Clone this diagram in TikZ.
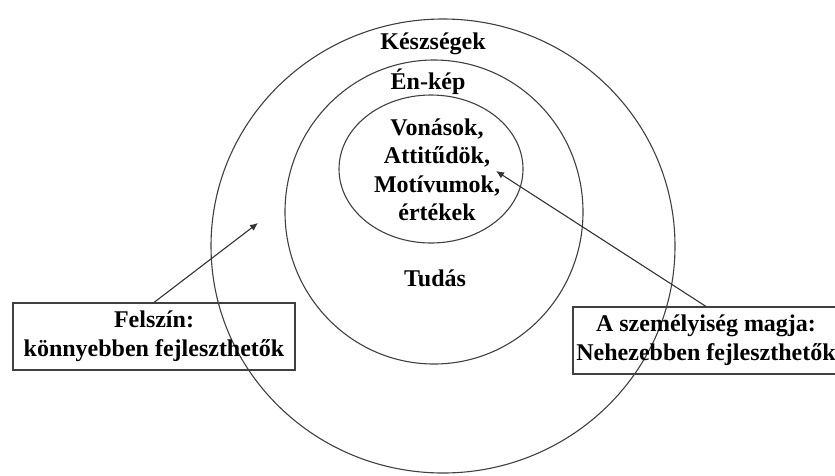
\documentclass[tikz,border=0pt]{standalone}
\usepackage{fontspec}
\setmainfont{Liberation Serif}
\usetikzlibrary{arrows.meta}
\begin{document}
\begin{tikzpicture}[x=1pt,y=-1pt,
  ring/.style={draw=black!75,line width=1.1pt},
  lbl/.style={font=\fontsize{24}{28}\selectfont\bfseries,align=center,inner sep=0pt},
  callout/.style={draw=black!75,line width=1.1pt,font=\fontsize{24}{29}\selectfont\bfseries,align=center,inner sep=0pt},
  pointer/.style={draw=black!80,line width=1.1pt,-{Latex[length=8pt,width=7pt]}}]
\useasboundingbox (0,0) rectangle (835,475);
\clip (0,0) rectangle (835,475);
% rings
\draw[ring] (443,246) ellipse [x radius=232, y radius=227];
\draw[ring] (434,212) ellipse [x radius=149, y radius=152];
\draw[ring] (431,169) ellipse [x radius=92, y radius=74];
% labels
\node[lbl] (skills) at (433,44) {Készségek};
\node[lbl] (self) at (428,82) {Én-kép};
\node[lbl,font=\fontsize{24}{28.5}\selectfont\bfseries] (core) at (437,170) {Vonások,\\Attitűdök,\\Motívumok,\\értékek};
\node[lbl] (know) at (435,278) {Tudás};
% callout boxes
\node[callout,minimum width=282pt,minimum height=67pt] (surf) at (154,336.5) {Felszín:\\könnyebben fejleszthetők};
\node[callout,minimum width=266pt,minimum height=67pt] (kern) at (706,340.5) {A személyiség magja:\\Nehezebben fejleszthetők};
\coordinate (tipL) at (258,223);
\coordinate (tipR) at (496,171);
\draw[pointer] (surf.north) -- (tipL);
\draw[pointer] (kern.north) -- (tipR);
\end{tikzpicture}
\end{document}
